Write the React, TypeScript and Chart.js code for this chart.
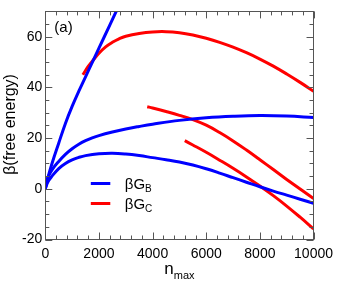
import React, { useEffect, useRef } from "react";
import { Chart, registerables } from "chart.js";

Chart.register(...registerables);

// ---- data ----
const b1X = [0, 100, 250, 500, 750, 1000, 1250, 1500, 1800, 2000, 2400, 2800];
const b1Y = [0, 4.5, 10, 18, 25.8, 32.5, 38.5, 44.2, 51, 55.5, 64.5, 73.5];

const b2X = [0, 50, 100, 250, 500, 750, 1000, 1250, 1500, 1750, 2000, 2500, 3000, 3500, 4000, 5000, 6000, 7000, 8000, 9000, 10000];
const b2Y = [0, 3, 4.6, 7.5, 10.8, 13.6, 15.8, 17.6, 19.0, 20.1, 21.0, 22.4, 23.6, 24.6, 25.5, 27.0, 28.0, 28.6, 28.9, 28.7, 28.1];

const b3X = [0, 100, 250, 500, 750, 1000, 1250, 1500, 2000, 2500, 3000, 3500, 4000, 4500, 5000, 5500, 6000, 6500, 7000, 7500, 8000, 8500, 9000, 9500, 10000];
const b3Y = [0, 2.8, 5, 8, 10, 11.4, 12.4, 13.1, 13.8, 14.0, 13.7, 13.1, 12.3, 11.5, 10.6, 9.4, 7.9, 6.2, 4.4, 2.6, 0.8, -0.9, -2.5, -4.1, -5.7];

const r1X = [1400, 1600, 1800, 2000, 2250, 2500, 2750, 3000, 3500, 4000, 4500, 5000, 5500, 6000, 6500, 7000, 7500, 8000, 8500, 9000, 9500, 10000];
const r1Y = [45, 48.3, 51, 53.5, 56, 57.8, 59.2, 60.2, 61.3, 61.9, 62, 61.6, 60.7, 59.4, 57.8, 55.9, 53.7, 51.2, 48.4, 45.3, 42, 38.5];

const r2X = [3800, 4000, 4500, 5000, 5500, 6000, 6500, 7000, 7500, 8000, 8500, 9000, 9500, 10000];
const r2Y = [32.4, 31.9, 30.5, 29, 27.3, 25.1, 22.2, 18.9, 15.3, 11.5, 7.6, 3.7, -0.1, -3.8];

const r3X = [5200, 5500, 6000, 6500, 7000, 7500, 8000, 8500, 9000, 9500, 10000];
const r3Y = [19, 17.3, 14.4, 11.3, 8.1, 4.7, 1.1, -2.7, -6.8, -11.2, -15.8];

const xTicks = [0, 2000, 4000, 6000, 8000, 10000];
const yTicks = [-20, 0, 20, 40, 60];

const BLUE = "#0000ff";
const RED = "#ff0000";
const FONT = "'Liberation Sans', Arial, sans-serif";

function pts(xs: number[], ys: number[]) {
  return xs.map((x, i) => ({ x, y: ys[i] }));
}

const decor = {
  id: "decor",
  afterDraw(chart: any) {
    const ctx = chart.ctx as CanvasRenderingContext2D;
    const a = chart.chartArea;
    const xs = chart.scales.x;
    const ys = chart.scales.y;
    ctx.save();
    ctx.strokeStyle = "#555";
    ctx.lineWidth = 1;
    // frame
    ctx.strokeRect(Math.round(a.left) + 0.5, Math.round(a.top) + 0.5, Math.round(a.right - a.left), Math.round(a.bottom - a.top));
    ctx.beginPath();
    for (let v = 0; v <= 10000; v += 400) {
      const px = Math.round(xs.getPixelForValue(v)) + 0.5;
      const L = v % 2000 === 0 ? 7 : 4;
      ctx.moveTo(px, a.bottom);
      ctx.lineTo(px, a.bottom - L);
      ctx.moveTo(px, a.top);
      ctx.lineTo(px, a.top + L);
    }
    for (let v = -20; v <= 70; v += 5) {
      const py = Math.round(ys.getPixelForValue(v)) + 0.5;
      const L = v % 20 === 0 ? 7 : 4;
      ctx.moveTo(a.left, py);
      ctx.lineTo(a.left + L, py);
      ctx.moveTo(a.right, py);
      ctx.lineTo(a.right - L, py);
    }
    ctx.stroke();

    ctx.fillStyle = "#000";
    // (a)
    ctx.font = `15px ${FONT}`;
    ctx.textAlign = "left";
    ctx.textBaseline = "alphabetic";
    ctx.fillText("(a)", a.left + 9, a.top + 21);

    // y title
    ctx.save();
    ctx.translate(15, (a.top + a.bottom) / 2 - 1);
    ctx.rotate(-Math.PI / 2);
    ctx.font = `16px ${FONT}`;
    ctx.textAlign = "center";
    ctx.fillText("β(free energy)", 0, 0);
    ctx.restore();

    // x title n_max
    const cx = (a.left + a.right) / 2;
    ctx.font = `17px ${FONT}`;
    const wn = ctx.measureText("n").width;
    ctx.font = `11px ${FONT}`;
    const wm = ctx.measureText("max").width;
    const start = cx - (wn + wm) / 2;
    ctx.font = `17px ${FONT}`;
    ctx.fillText("n", start, 274);
    ctx.font = `11px ${FONT}`;
    ctx.fillText("max", start + wn, 278.5);

    // legend
    const items = [
      { c: BLUE, s: "B" },
      { c: RED, s: "C" },
    ];
    items.forEach((it, i) => {
      const y = 183.5 + i * 20;
      ctx.strokeStyle = it.c;
      ctx.lineWidth = 3;
      ctx.beginPath();
      ctx.moveTo(a.left + 45.5, y);
      ctx.lineTo(a.left + 65, y);
      ctx.stroke();
      ctx.font = `15px ${FONT}`;
      ctx.fillStyle = "#000";
      const tx = a.left + 79.5;
      ctx.fillText("βG", tx, y + 5.5);
      const w = ctx.measureText("βG").width;
      ctx.font = `10px ${FONT}`;
      ctx.fillText(it.s, tx + w, y + 8.5);
    });
    ctx.restore();
  },
};

export default function App() {
  const ref = useRef<HTMLCanvasElement>(null);
  useEffect(() => {
    const mk = (label: string, xs: number[], ys: number[], c: string) => ({
      label,
      data: pts(xs, ys),
      borderColor: c,
      backgroundColor: c,
      borderWidth: 3,
      pointRadius: 0,
      tension: 0.4,
      fill: false,
    });
    const chart = new Chart(ref.current!, {
      type: "line",
      data: {
        datasets: [
          mk("b1", b1X, b1Y, BLUE),
          mk("b2", b2X, b2Y, BLUE),
          mk("b3", b3X, b3Y, BLUE),
          mk("r1", r1X, r1Y, RED),
          mk("r2", r2X, r2Y, RED),
          mk("r3", r3X, r3Y, RED),
        ],
      },
      options: {
        animation: false,
        responsive: false,
        events: [],
        layout: { padding: { left: 0, right: 22, top: 2, bottom: 0 } },
        plugins: { legend: { display: false }, tooltip: { enabled: false } },
        scales: {
          x: {
            type: "linear",
            min: 0,
            max: 10000,
            afterFit: (s: any) => { s.height = 42.5; },
            afterBuildTicks: (s: any) => { s.ticks = xTicks.map((v) => ({ value: v })); },
            grid: { display: false, drawTicks: false },
            border: { display: false },
            ticks: { color: "#000", font: { family: FONT, size: 14 }, padding: 6, maxRotation: 0, autoSkip: false, callback: (v: any) => String(v) },
          },
          y: {
            type: "linear",
            min: -20,
            max: 70,
            afterFit: (s: any) => { s.width = 45.3; },
            afterBuildTicks: (s: any) => { s.ticks = yTicks.map((v) => ({ value: v })); },
            grid: { display: false, drawTicks: false },
            border: { display: false },
            ticks: { color: "#000", font: { family: FONT, size: 14 }, padding: 3, autoSkip: false, callback: (v: any) => String(v) },
          },
        },
      },
      plugins: [decor],
    });
    return () => chart.destroy();
  }, []);
  return (
    <div style={{ position: "fixed", left: 0, top: 0, width: 339, height: 282, background: "#fff" }}>
      <canvas ref={ref} width={339} height={282} style={{ display: "block" }} />
    </div>
  );
}
